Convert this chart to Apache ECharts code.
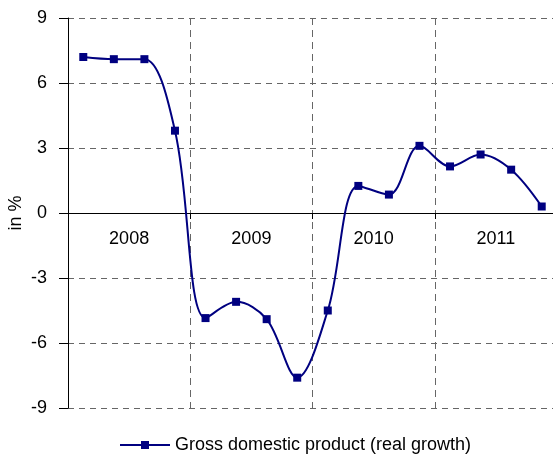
<!DOCTYPE html>
<html>
<head>
  <meta charset="utf-8">
  <title>GDP real growth</title>
  <style>
    html, body { margin: 0; padding: 0; background: #fff; }
    #main { width: 553px; height: 461px; }
  </style>
</head>
<body>
<div id="main"></div>
<script src="https://cdn.jsdelivr.net/npm/echarts@6/dist/echarts.min.js"></script>
<script>
  // quarters, 2008 Q1 .. 2011 Q4
  var quarters = ['2008 Q1', '2008 Q2', '2008 Q3', '2008 Q4',
                  '2009 Q1', '2009 Q2', '2009 Q3', '2009 Q4',
                  '2010 Q1', '2010 Q2', '2010 Q3', '2010 Q4',
                  '2011 Q1', '2011 Q2', '2011 Q3', '2011 Q4'];
  var years = ['2008', '2009', '2010', '2011'];
  var gdpGrowth = [7.2, 7.1, 7.1, 3.8,
                   -4.85, -4.1, -4.9, -7.6,
                   -4.5, 1.25, 0.85, 3.1,
                   2.15, 2.7, 2.0, 0.3];
  var yTicks = { min: -9, max: 9, interval: 3 };

  var font = '"Liberation Sans", Arial, sans-serif';
  var myChart = echarts.init(document.getElementById('main'));
  myChart.setOption({
    animation: false,
    grid: { left: 68, right: -4, top: 18, bottom: 53, outerBoundsMode: 'none', containLabel: false },
    legend: {
      left: 114,
      bottom: 2,
      itemWidth: 50,
      itemHeight: 10,
      itemGap: 6,
      textStyle: { fontFamily: font, fontSize: 18, color: '#000' },
      data: ['Gross domestic product (real growth)']
    },
    xAxis: [
      {
        type: 'category',
        data: quarters,
        boundaryGap: true,
        axisLine: { onZero: true, lineStyle: { color: '#000', width: 1 } },
        axisTick: { show: true, interval: 3, length: 6, lineStyle: { color: '#000' } },
        axisLabel: { show: false },
        splitLine: {
          show: true,
          interval: 3,
          lineStyle: { color: '#666', type: [7, 5], width: 1 }
        }
      },
      {
        type: 'category',
        data: years,
        position: 'bottom',
        offset: -186,
        boundaryGap: true,
        axisLine: { show: false },
        axisTick: { show: false },
        splitLine: { show: false },
        axisLabel: { fontFamily: font, fontSize: 18, color: '#000', margin: 8 }
      }
    ],
    yAxis: {
      type: 'value',
      min: yTicks.min,
      max: yTicks.max,
      interval: yTicks.interval,
      name: 'in %',
      nameLocation: 'middle',
      nameGap: 43,
      nameMoveOverlap: false,
      nameTextStyle: { fontFamily: font, fontSize: 18, color: '#000' },
      axisLine: { show: true, lineStyle: { color: '#000', width: 1 } },
      axisTick: { show: true, length: 9, lineStyle: { color: '#000' } },
      axisLabel: { fontFamily: font, fontSize: 18, color: '#000', margin: 21 },
      splitLine: { show: true, lineStyle: { color: '#666', type: [6, 5], width: 1 } }
    },
    series: [
      {
        name: 'Gross domestic product (real growth)',
        type: 'line',
        data: gdpGrowth,
        smooth: 0.35,
        symbol: 'rect',
        symbolSize: 8,
        lineStyle: { color: '#000080', width: 2 },
        itemStyle: { color: '#000080' }
      }
    ]
  });
</script>
</body>
</html>
